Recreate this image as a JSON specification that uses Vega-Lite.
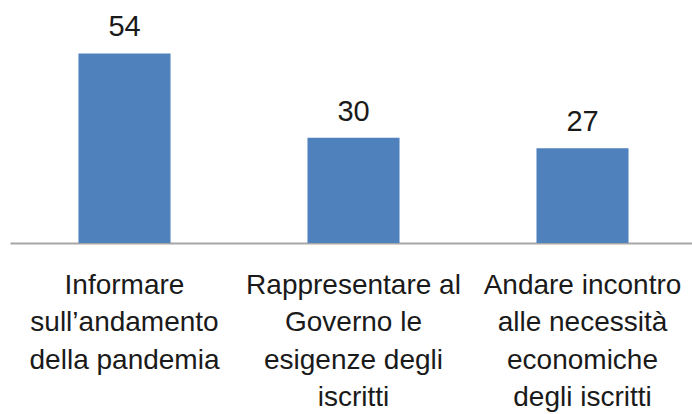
{
  "$schema": "https://vega.github.io/schema/vega-lite/v6.json",
  "width": 687,
  "height": 243,
  "autosize": {"type": "none"},
  "padding": {"left": 10, "top": 0, "right": 0, "bottom": 171},
  "background": "white",
  "config": {"view": {"stroke": null}},
  "data": {
    "values": [
      {"cat": "Informare|sull’andamento|della pandemia", "value": 54},
      {"cat": "Rappresentare al|Governo le|esigenze degli|iscritti", "value": 30},
      {"cat": "Andare incontro|alle necessità|economiche|degli iscritti", "value": 27}
    ]
  },
  "encoding": {
    "x": {
      "field": "cat",
      "type": "nominal",
      "sort": null,
      "scale": {"paddingInner": 0.598, "paddingOuter": 0.299},
      "axis": {
        "title": null,
        "labelAngle": 0,
        "labelExpr": "split(datum.label, '|')",
        "labelFont": "Liberation Sans",
        "labelFontSize": 28,
        "labelColor": "#1a1a1a",
        "labelLineHeight": 37.5,
        "labelBaseline": "alphabetic",
        "labelPadding": 50,
        "labelLimit": 0,
        "labelOverlap": false,
        "labelBound": false,
        "ticks": false,
        "grid": false,
        "domainColor": "#a6a6a6",
        "domainWidth": 2
      }
    },
    "y": {
      "field": "value",
      "type": "quantitative",
      "scale": {"domain": [0, 69.2], "nice": false},
      "axis": null
    }
  },
  "layer": [
    {"mark": {"type": "bar", "color": "#4F81BD"}},
    {
      "mark": {"type": "text", "baseline": "alphabetic", "dy": -17, "fontSize": 29, "font": "Liberation Sans", "color": "#1a1a1a"},
      "encoding": {"text": {"field": "value", "type": "quantitative"}}
    }
  ]
}
